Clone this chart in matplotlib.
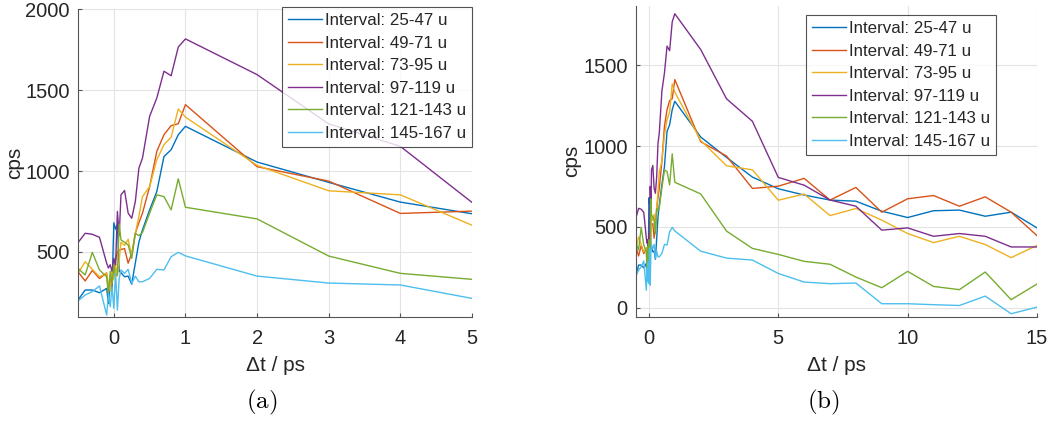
import numpy as np
import matplotlib
matplotlib.use("Agg")
import matplotlib.pyplot as plt

plt.rcParams['font.family'] = ['Liberation Sans', 'DejaVu Sans']
plt.rcParams['mathtext.fontset'] = 'cm'

# Delay axis (ps)
t_ps = [-0.5, -0.4, -0.3, -0.2, -0.1, -0.075, -0.05, -0.025, 0, 0.025, 0.05, 0.075,
        0.1, 0.15, 0.2, 0.25, 0.3, 0.35, 0.4, 0.5, 0.6, 0.7, 0.8, 0.9, 1,
        2, 3, 4, 5, 6, 7, 8, 9, 10, 11, 12, 13, 14, 15]

# Counts per second for each mass interval
cps_25_47 = [202, 264, 264, 247, 274, 180, 300, 260, 680, 640, 670, 380,
             371, 346, 350, 300, 430, 560, 636, 760, 873, 1090, 1132, 1225, 1277,
             1056, 930, 808, 736, 697, 666, 659, 597, 558, 600, 604, 566, 591, 494]
cps_49_71 = [377, 320, 385, 335, 370, 250, 330, 300, 400, 450, 500, 510,
             515, 520, 430, 490, 615, 680, 739, 904, 1122, 1225, 1281, 1293, 1411,
             1027, 938, 738, 752, 800, 666, 744, 591, 674, 694, 628, 686, 591, 446]
cps_73_95 = [367, 439, 392, 346, 367, 300, 260, 380, 330, 420, 350, 450,
             560, 540, 578, 470, 615, 720, 842, 904, 1070, 1163, 1210, 1384, 1334,
             1035, 878, 853, 665, 703, 570, 614, 542, 459, 403, 442, 391, 310, 386]
cps_97_119 = [557, 615, 609, 590, 430, 400, 420, 380, 460, 420, 750, 600,
              853, 880, 740, 708, 811, 1018, 1080, 1339, 1452, 1618, 1590, 1768, 1818,
              1597, 1292, 1153, 806, 758, 666, 628, 480, 494, 442, 459, 442, 376, 376]
cps_121_143 = [398, 357, 497, 388, 346, 240, 380, 300, 420, 350, 360, 673,
               574, 560, 543, 460, 615, 600, 620, 740, 853, 842, 760, 952, 776,
               704, 474, 367, 330, 287, 269, 190, 124, 225, 132, 112, 221, 50, 147]
cps_145_167 = [196, 233, 254, 289, 109, 243, 161, 285, 151, 367, 140, 336,
               388, 367, 392, 305, 350, 315, 315, 336, 392, 388, 470, 497, 475,
               350, 307, 295, 212, 159, 149, 153, 25, 25, 19, 14, 72, -37, 4]

labels = ["Interval: 25-47 u", "Interval: 49-71 u", "Interval: 73-95 u",
          "Interval: 97-119 u", "Interval: 121-143 u", "Interval: 145-167 u"]
series = [cps_25_47, cps_49_71, cps_73_95, cps_97_119, cps_121_143, cps_145_167]
colors = ["#0072BD", "#D95319", "#EDB120", "#7E2F8E", "#77AC30", "#4DBEEE"]

fig = plt.figure(figsize=(10.52, 4.23), dpi=100)
ax_a = fig.add_axes([78/1052, 1-316.5/423, 394/1052, 307/423])
ax_b = fig.add_axes([636/1052, 1-316.5/423, 401/1052, 310.5/423])


def style_axes(ax, xlim, ylim, xticks, yticks, ylab_x):
    for y, lab, c in zip(series, labels, colors):
        ax.plot(t_ps, y, color=c, lw=1.0, label=lab)
    ax.set_xlim(*xlim)
    ax.set_ylim(*ylim)
    ax.set_xticks(xticks)
    ax.set_yticks(yticks)
    ax.grid(True, color="#e3e3e3", lw=0.8)
    ax.set_axisbelow(True)
    for s in ["top", "right"]:
        ax.spines[s].set_visible(False)
    for s in ["left", "bottom"]:
        ax.spines[s].set_color("#555555")
        ax.spines[s].set_linewidth(0.8)
    ax.tick_params(direction="in", length=3, color="#555555", labelsize=14.5,
                   labelcolor="#262626", pad=6)
    ax.tick_params(axis="x", pad=9)
    ax.set_xlabel("Δt / ps", fontsize=15, color="#262626", labelpad=6)
    ax.set_ylabel("cps", fontsize=15, color="#262626")
    ax.yaxis.set_label_coords(ylab_x, 0.5)


style_axes(ax_a, (-0.5, 5), (100, 2000), [0, 1, 2, 3, 4, 5],
           [500, 1000, 1500, 2000], (24 - 78) / 394)
style_axes(ax_b, (-0.5, 15), (-54, 1866), [0, 5, 10, 15],
           [0, 500, 1000, 1500], (581 - 636) / 401)

for ax, anchor in [(ax_a, (472/1052, 1-7/423)), (ax_b, (996/1052, 1-15/423))]:
    leg = ax.legend(loc="upper right", bbox_to_anchor=anchor, bbox_transform=fig.transFigure,
                    fontsize=12.2, frameon=True, fancybox=False, edgecolor="#262626",
                    handlelength=2.0, handletextpad=0.2, labelspacing=0.45,
                    borderpad=0.35, borderaxespad=0)
    leg.get_frame().set_linewidth(0.8)
    for txt in leg.get_texts():
        txt.set_color("#262626")

fig.text(262/1052, 1-402/423, r"$\mathrm{(a)}$", fontsize=18, ha="center", va="center")
fig.text(823/1052, 1-402/423, r"$\mathrm{(b)}$", fontsize=18, ha="center", va="center")

fig.savefig("out.png", dpi=100)
